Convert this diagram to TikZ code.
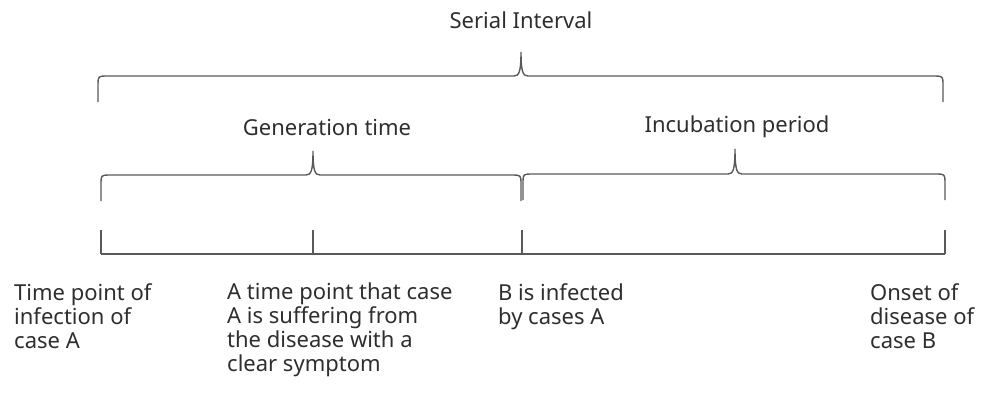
\documentclass[tikz,border=0pt]{standalone}
\usepackage{fontspec}
\setmainfont{Noto Sans}
\begin{document}
\begin{tikzpicture}[x=1pt,y=-1pt,
  line/.style={draw=black!65,line width=1.4pt},
  lbl/.style={font=\fontsize{22}{24}\selectfont,text=black!82,inner sep=0pt},
  note/.style={lbl,anchor=north west,align=left}]
\useasboundingbox (0,0) rectangle (985,394);
% brace macro: L, R, M(peak x), H(base y), E(end y), T(peak y)
\newcommand\mybrace[6]{%
  \draw[line] (#1,#5) -- (#1,#4+7) .. controls (#1,#4+1) and (#1+1,#4) .. (#1+7,#4)
    -- (#3-7,#4) .. controls (#3-2,#4) and (#3,#4-4) .. (#3,#6)
    .. controls (#3,#4-4) and (#3+2,#4) .. (#3+7,#4)
    -- (#2-7,#4) .. controls (#2-1,#4) and (#2,#4+1) .. (#2,#4+7) -- (#2,#5);}
\mybrace{98}{943}{521}{76}{102}{52}
\mybrace{101}{521}{313}{175}{201}{151}
\mybrace{523}{945}{735}{174}{200}{149}
% timeline
\coordinate (t0) at (101,254);
\coordinate (t1) at (313,254);
\coordinate (t2) at (522,254);
\coordinate (t3) at (945,254);
\draw[line] (t0) -- (t3);
\foreach \t in {t0,t1,t2,t3} \draw[line] (\t) -- ++(0,-24);
% labels
\node[lbl] (si) at (521,20) {Serial Interval};
\node[lbl] (gt) at (327,127) {Generation time};
\node[lbl] (ip) at (737,127) {Incubation period};
\node[note] (n0) at (14,283) {Time point of\\infection of\\case A};
\node[note] (n1) at (227,283) {A time point that case\\A is suffering from\\the disease with a\\clear symptom};
\node[note] (n2) at (498,283) {B is infected\\by cases A};
\node[note] (n3) at (870,283) {Onset of\\disease of\\case B};
\end{tikzpicture}
\end{document}
